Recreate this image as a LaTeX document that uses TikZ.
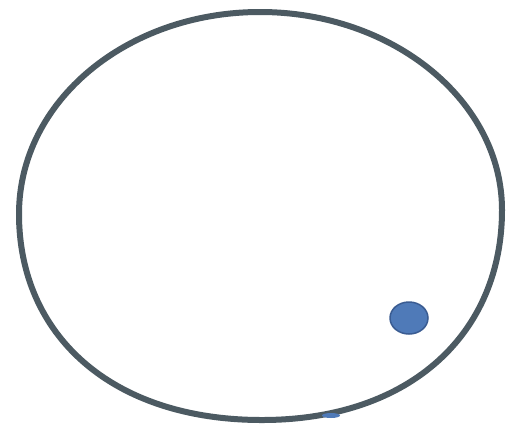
\documentclass[tikz,border=0pt]{standalone}
\definecolor{ringgray}{HTML}{4C5A62}
\definecolor{dotblue}{HTML}{4F7AB8}
\definecolor{dotedge}{HTML}{3A5C92}
\tikzset{
  ring/.style={draw=ringgray, line width=6pt},
  blueblob/.style={fill=dotblue, draw=dotedge, line width=1.5pt}
}
\begin{document}
\begin{tikzpicture}[x=1pt,y=-1pt]
\useasboundingbox (0,0) rectangle (510,429);
\fill[white] (0,0) rectangle (510,429);
\coordinate (T) at (260,12);
\coordinate (R) at (502,210);
\coordinate (B) at (262,420);
\coordinate (L) at (19,214);
\draw[ring] (T) .. controls (393,12) and (502,101) .. (R)
  .. controls (502,332) and (412,420) .. (B)
  .. controls (110,420) and (19,334) .. (L)
  .. controls (19,101) and (127,12) .. (T) -- cycle;
\fill[dotblue] (331,415.5) ellipse [x radius=9, y radius=2.5];
\draw[blueblob] (409,318) ellipse [x radius=19, y radius=16];
\end{tikzpicture}
\end{document}
